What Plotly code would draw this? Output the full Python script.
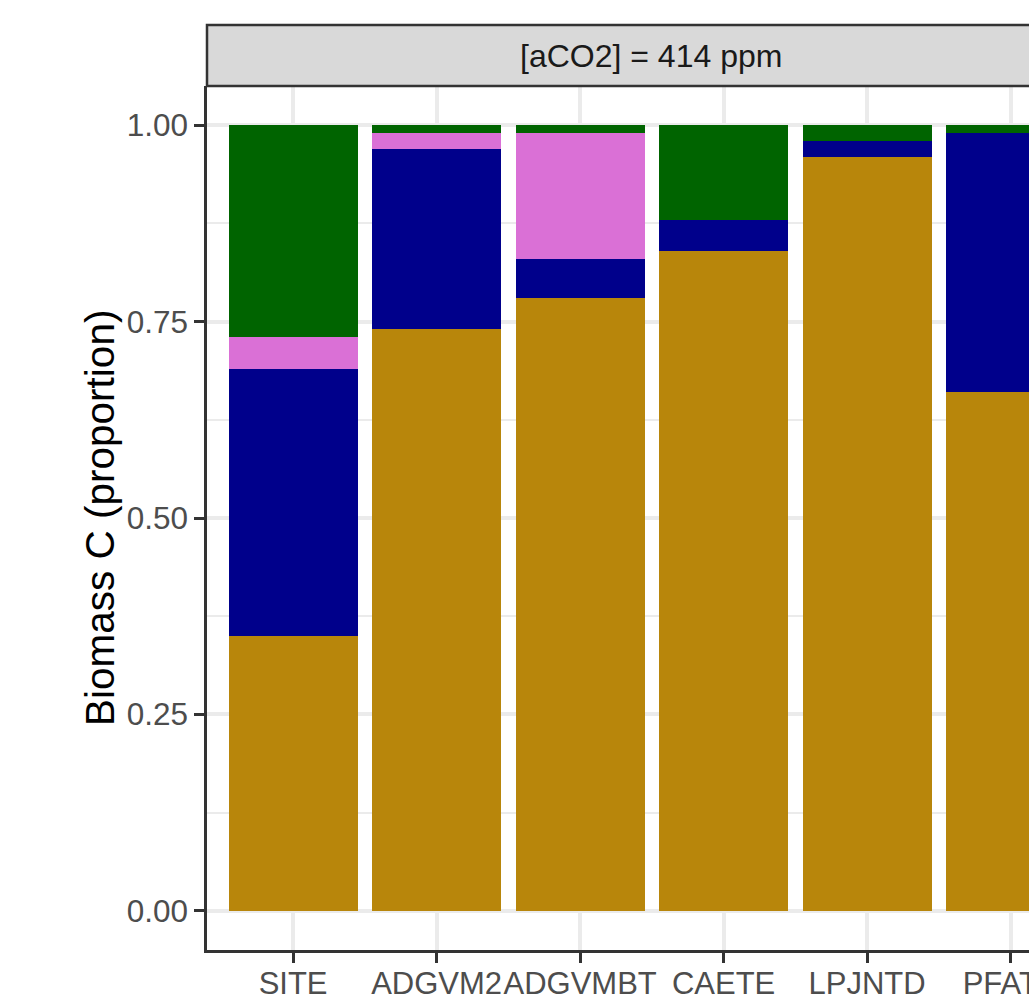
import plotly.graph_objects as go

# ---- data ----
models = ["SITE", "ADGVM2", "ADGVMBT", "CAETE", "LPJNTD", "PFATE"]
pool_names = ["Wood", "Coarse root", "Fine root", "Leaf"]
wood = [0.35, 0.74, 0.78, 0.84, 0.96, 0.66]
coarse_root = [0.34, 0.23, 0.05, 0.04, 0.02, 0.33]
fine_root = [0.04, 0.02, 0.16, 0.00, 0.00, 0.00]
leaf = [0.27, 0.01, 0.01, 0.12, 0.02, 0.01]
pool_colors = ["#B8860B", "#00008B", "#DA70D6", "#006400"]
y_ticks = [0.0, 0.25, 0.5, 0.75, 1.0]
y_tick_labels = ["0.00", "0.25", "0.50", "0.75", "1.00"]
strip_label = "[aCO2] = 414 ppm"
y_title = "Biomass C (proportion)"

W, H = 1029, 1007
L, T, B = 207, 86, 57
plot_w = W - L
plot_h = H - T - B

fig = go.Figure()
for name, vals, col in zip(pool_names, [wood, coarse_root, fine_root, leaf], pool_colors):
    fig.add_trace(go.Bar(x=models, y=vals, name=name, marker=dict(color=col, line=dict(width=0)),
                         width=0.9, showlegend=False))

font_family = "Liberation Sans, Arial, Helvetica, sans-serif"
fig.update_layout(
    width=W, height=H,
    margin=dict(l=L, r=0, t=T, b=B, pad=0, autoexpand=False),
    barmode="stack",
    paper_bgcolor="white",
    plot_bgcolor="white",
    font=dict(family=font_family),
    showlegend=False,
)
fig.update_xaxes(
    type="category",
    categoryorder="array", categoryarray=models,
    range=[-0.6, -0.6 + plot_w / 143.5],
    automargin=False,
    tickangle=0,
    showgrid=True, gridcolor="#EBEBEB", gridwidth=3.5,
    showline=True, linecolor="#333333", linewidth=2.5,
    ticks="outside", ticklen=10, tickwidth=2.5, tickcolor="#333333",
    tickfont=dict(size=31, color="#4D4D4D", family=font_family),
    ticklabelstandoff=-6,
    zeroline=False,
    fixedrange=True,
)
fig.update_yaxes(
    range=[-0.05, 1.05],
    automargin=False,
    tickvals=y_ticks, ticktext=y_tick_labels,
    showgrid=True, gridcolor="#EBEBEB", gridwidth=3.5,
    minor=dict(dtick=0.125, tick0=0, showgrid=True, gridcolor="#EBEBEB", gridwidth=1.75, ticks=""),
    showline=True, linecolor="#333333", linewidth=2.5,
    ticks="outside", ticklen=10, tickwidth=2.5, tickcolor="#333333",
    tickfont=dict(size=31.5, color="#4D4D4D", family=font_family),
    ticklabelstandoff=0,
    zeroline=False,
    fixedrange=True,
)

# facet strip
strip_top_px = 25
strip_right_px = 1095
fig.add_shape(type="rect", xref="paper", yref="paper",
              x0=0, x1=(strip_right_px - L) / plot_w,
              y0=1, y1=(H - B - strip_top_px) / plot_h,
              fillcolor="#D9D9D9", line=dict(color="#333333", width=2.5), layer="above")
fig.add_annotation(xref="paper", yref="paper",
                   x=(651 - L) / plot_w, y=(H - B - (strip_top_px + T) / 2) / plot_h,
                   text=strip_label, showarrow=False, xanchor="center", yanchor="middle",
                   font=dict(size=32, color="#1A1A1A", family=font_family))
# y axis title
fig.add_annotation(xref="paper", yref="paper",
                   x=(100 - L) / plot_w, y=0.5, text=y_title, textangle=-90,
                   showarrow=False, xanchor="center", yanchor="middle",
                   font=dict(size=40.5, color="black", family=font_family))

fig.write_html("out.html")
